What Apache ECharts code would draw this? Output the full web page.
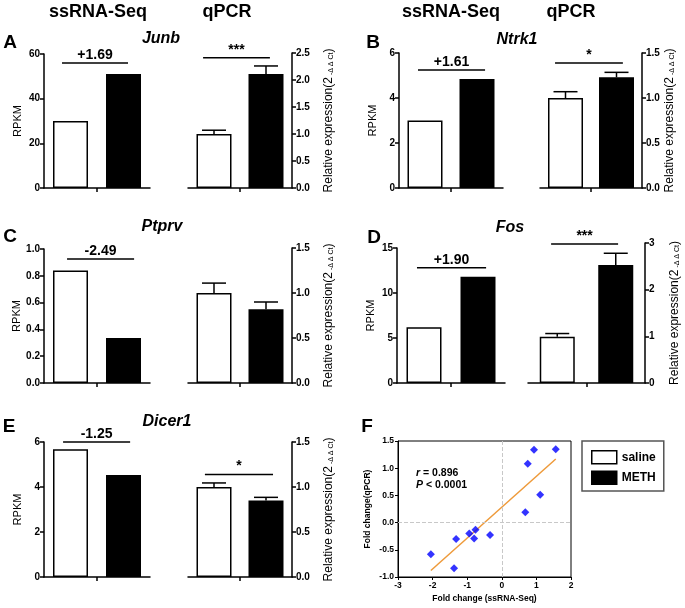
<!DOCTYPE html>
<html>
<head>
<meta charset="utf-8">
<script src="https://cdn.jsdelivr.net/npm/echarts@6/dist/echarts.min.js"></script>
<style>
html,body{margin:0;padding:0;background:#fff;}
#box{width:685px;height:608px;}
</style>
</head>
<body>
<div id="box"></div>
<script>
// values
const groups = ['saline', 'METH'];
const genes = ['Junb', 'Ntrk1', 'Ptprv', 'Fos', 'Dicer1'];
const panelLetters = ['A', 'B', 'C', 'D', 'E'];
const rpkmSaline = [30, 3.0, 0.84, 6.2, 5.68];
const rpkmMeth = [51, 4.85, 0.335, 11.8, 4.53];
const rpkmMax = [60, 6, 1.0, 15, 6];
const rpkmStep = [20, 2, 0.2, 5, 2];
const qpcrSaline = [1.0, 1.0, 1.0, 0.99, 1.0];
const qpcrSalineErr = [0.07, 0.07, 0.11, 0.07, 0.045];
const qpcrMeth = [2.11, 1.23, 0.82, 2.53, 0.85];
const qpcrMethErr = [0.15, 0.055, 0.08, 0.25, 0.035];
const qpcrMax = [2.5, 1.5, 1.5, 3, 1.5];
const qpcrStep = [0.5, 0.5, 0.5, 1, 0.5];
const foldText = ['+1.69', '+1.61', '-2.49', '+1.90', '-1.25'];
const qpcrStars = ['***', '*', '', '***', '*'];

const fcSeq = [-2.05, -1.38, -1.32, -0.94, -0.80, -0.76, -0.34, 0.68, 0.75, 0.93, 1.11, 1.56];
const fcQpcr = [-0.58, -0.84, -0.30, -0.20, -0.29, -0.13, -0.23, 0.19, 1.08, 1.34, 0.51, 1.35];
const fitX = [-2.05, 1.56];
const fitY = [-0.88, 1.17];
const statLines = ['{i|r} = 0.896', '{i|P} < 0.0001'];

// layout (pixels): [x start, x end, top, bottom]
const seqBox = [[44,150,54,188],[399,503,53,188],[44,150,249,383],[397,505,248,383],[44,150,442,577]];
const pcrBox = [[188,292,53,188],[540,642,53,188],[188,292,248,383],[528,645,243,383],[188,292,442,577]];
const pcrNameGap = [31, 21, 31, 24, 31];
// brackets in data units, x axis runs 0..4 (bars sit at 1 and 3)
const seqBracket = [[0.68,3.17,56],[0.73,3.31,5.24],[0.87,3.4,0.925],[0.74,3.3,12.8],[0.72,3.25,6.0]];
const pcrBracket = [[0.58,3.15,2.41],[0.59,3.25,1.39],null,[0.79,3.08,2.98],[0.65,3.27,1.14]];

const FONT = 'Liberation Sans';
const BLACK = '#000';
const pcrName = '{a|Relative expression(2}{s| -Δ Δ Ct}{a|)}';

let grids = [], xAxes = [], yAxes = [], series = [];

function errorBar(params, api){
    const x = api.value(0), m = api.value(1), e = api.value(2);
    const p0 = api.coord([x, m]);
    const p1 = api.coord([x, m + e]);
    const s = {stroke: BLACK, lineWidth: 1.5};
    return {type:'group', children:[
        {type:'line', shape:{x1:p0[0], y1:p0[1], x2:p1[0], y2:p1[1]}, style:s},
        {type:'line', shape:{x1:p1[0]-12, y1:p1[1], x2:p1[0]+12, y2:p1[1]}, style:s}
    ]};
}

function bracket(text){
    return function(params, api){
        const a = api.coord([api.value(0), api.value(2)]);
        const b = api.coord([api.value(1), api.value(2)]);
        return {type:'group', children:[
            {type:'line', shape:{x1:a[0], y1:a[1], x2:b[0], y2:b[1]}, style:{stroke:BLACK, lineWidth:1.5}},
            {type:'text', x:(a[0]+b[0])/2, y:a[1]-1, style:{
                text:text, fill:BLACK, font:'bold 14px "Liberation Sans"',
                align:'center', verticalAlign:'bottom'}}
        ]};
    };
}

function fmt(step){
    return function(v){ return step < 1 ? v.toFixed(1) : String(v); };
}

genes.forEach(function(g, i){
    [0, 1].forEach(function(k){
        const box = k ? pcrBox[i] : seqBox[i];
        const gi = grids.length;
        const max = k ? qpcrMax[i] : rpkmMax[i];
        const step = k ? qpcrStep[i] : rpkmStep[i];
        grids.push({left:box[0], width:box[1]-box[0], top:box[2], height:box[3]-box[2]});
        xAxes.push({
            gridIndex:gi, type:'value', min:0, max:4, interval:2,
            axisLine:{show:true, onZero:false, lineStyle:{color:BLACK, width:1.5}},
            axisTick:{show:true, customValues:[2], length:4, lineStyle:{color:BLACK, width:1.5}},
            axisLabel:{show:false}, splitLine:{show:false}
        });
        yAxes.push({
            gridIndex:gi, type:'value', position:k ? 'right' : 'left',
            min:0, max:max, interval:step,
            name:k ? pcrName : 'RPKM', nameLocation:'middle', nameRotate:90,
            nameGap:k ? pcrNameGap[i] : 21,
            nameTextStyle:{
                fontFamily:FONT, fontSize:11, color:BLACK,
                rich:{
                    a:{fontFamily:FONT, fontSize:12, color:BLACK},
                    s:{fontFamily:FONT, fontSize:7, color:BLACK, verticalAlign:'bottom'}
                }
            },
            axisLine:{show:true, onZero:false, lineStyle:{color:BLACK, width:1.5}},
            axisTick:{show:true, length:4, lineStyle:{color:BLACK, width:1.5}},
            axisLabel:{fontFamily:FONT, fontWeight:'bold', fontSize:10, color:BLACK, margin:4, formatter:fmt(step)},
            splitLine:{show:false}
        });
        const sal = k ? qpcrSaline[i] : rpkmSaline[i];
        const met = k ? qpcrMeth[i] : rpkmMeth[i];
        series.push({
            name:groups[0], type:'bar', xAxisIndex:gi, yAxisIndex:gi,
            barWidth:35, barGap:'-100%', data:[[1, sal]],
            itemStyle:{color:'#fff', borderColor:BLACK, borderWidth:1.5}
        });
        series.push({
            name:groups[1], type:'bar', xAxisIndex:gi, yAxisIndex:gi,
            barWidth:35, barGap:'-100%', data:[[3, met]],
            itemStyle:{color:BLACK, borderColor:BLACK, borderWidth:1.5}
        });
        if(k){
            series.push({
                type:'custom', xAxisIndex:gi, yAxisIndex:gi, renderItem:errorBar, z:3,
                data:[[1, qpcrSaline[i], qpcrSalineErr[i]], [3, qpcrMeth[i], qpcrMethErr[i]]]
            });
        }
        const br = k ? pcrBracket[i] : seqBracket[i];
        if(br){
            series.push({
                type:'custom', xAxisIndex:gi, yAxisIndex:gi, z:3,
                renderItem:bracket(k ? qpcrStars[i] : foldText[i]), data:[br]
            });
        }
    });
});

// panel F: correlation
const fi = grids.length;
grids.push({left:398, width:173, top:441, height:136, show:true, borderColor:BLACK, borderWidth:1, backgroundColor:'transparent'});
xAxes.push({
    gridIndex:fi, type:'value', min:-3, max:2, interval:1,
    name:'Fold change (ssRNA-Seq)', nameLocation:'middle', nameGap:17,
    nameTextStyle:{fontFamily:FONT, fontWeight:'bold', fontSize:8.5, color:BLACK},
    axisLine:{show:true, onZero:false, lineStyle:{color:BLACK, width:1}},
    axisTick:{show:true, length:3, lineStyle:{color:BLACK}},
    axisLabel:{fontFamily:FONT, fontWeight:'bold', fontSize:8.5, color:BLACK, margin:4},
    splitLine:{show:false}
});
yAxes.push({
    gridIndex:fi, type:'value', min:-1, max:1.5, interval:0.5,
    name:'Fold change(qPCR)', nameLocation:'middle', nameGap:26,
    nameTextStyle:{fontFamily:FONT, fontWeight:'bold', fontSize:8.5, color:BLACK},
    axisLine:{show:true, onZero:false, lineStyle:{color:BLACK, width:1}},
    axisTick:{show:true, length:3, lineStyle:{color:BLACK}},
    axisLabel:{fontFamily:FONT, fontWeight:'bold', fontSize:8.5, color:BLACK, margin:4, formatter:function(v){return v.toFixed(1);}},
    splitLine:{show:false}
});
series.push({
    type:'line', xAxisIndex:fi, yAxisIndex:fi, showSymbol:false, silent:true,
    data:fitX.map(function(x, j){ return [x, fitY[j]]; }),
    lineStyle:{color:'#ee9a3a', width:1.5}, z:2
});
series.push({
    type:'scatter', xAxisIndex:fi, yAxisIndex:fi, symbol:'diamond', symbolSize:8,
    itemStyle:{color:'#0000ff'}, z:4,
    data:fcSeq.map(function(x, j){ return [x, fcQpcr[j]]; }),
    markLine:{
        silent:true, symbol:'none', label:{show:false},
        lineStyle:{color:'#c8c8c8', type:'dashed', width:1},
        data:[{xAxis:0}, {yAxis:0}]
    }
});

function txt(x, y, text, font, extra){
    return Object.assign({type:'text', x:x, y:y, style:{
        text:text, font:font, fill:BLACK, align:'center', verticalAlign:'middle'}}, extra || {});
}

const letterPos = [[10,43],[373,43],[10,237],[374,238],[9,427]];
const genePos = [[161,39],[517,40],[162,227],[510,228],[167,422]];
let graphics = [
    txt(98, 12, 'ssRNA-Seq', 'bold 18px "Liberation Sans"'),
    txt(227, 12, 'qPCR', 'bold 18px "Liberation Sans"'),
    txt(451, 12, 'ssRNA-Seq', 'bold 18px "Liberation Sans"'),
    txt(571, 12, 'qPCR', 'bold 18px "Liberation Sans"'),
    txt(367, 427, 'F', 'bold 19px "Liberation Sans"')
];
genes.forEach(function(g, i){
    graphics.push(txt(letterPos[i][0], letterPos[i][1], panelLetters[i], 'bold 19px "Liberation Sans"'));
    graphics.push(txt(genePos[i][0], genePos[i][1], g, 'italic bold 16px "Liberation Sans"'));
});
statLines.forEach(function(s, j){
    graphics.push({type:'text', x:416, y:473 + j*12, style:{
        text:s, font:'bold 10.5px "Liberation Sans"', fill:BLACK, align:'left', verticalAlign:'middle',
        rich:{i:{fontStyle:'italic', fontWeight:'bold', fontSize:10.5, fontFamily:FONT, fill:BLACK}}
    }});
});

const chart = echarts.init(document.getElementById('box'));
chart.setOption({
    backgroundColor:'#fff',
    animation:false,
    legend:{
        data:[
            {name:groups[0], itemStyle:{color:'#fff', borderColor:BLACK, borderWidth:1.5}},
            {name:groups[1], itemStyle:{color:BLACK, borderColor:BLACK, borderWidth:1.5}}
        ],
        left:582, top:441, orient:'vertical', padding:[9,8,6,9], itemGap:6,
        itemWidth:25, itemHeight:13, icon:'rect', selectedMode:false,
        borderColor:'#555', borderWidth:1.5,
        textStyle:{fontFamily:FONT, fontWeight:'bold', fontSize:12, color:BLACK}
    },
    grid:grids,
    xAxis:xAxes,
    yAxis:yAxes,
    series:series,
    graphic:graphics
});
</script>
</body>
</html>
